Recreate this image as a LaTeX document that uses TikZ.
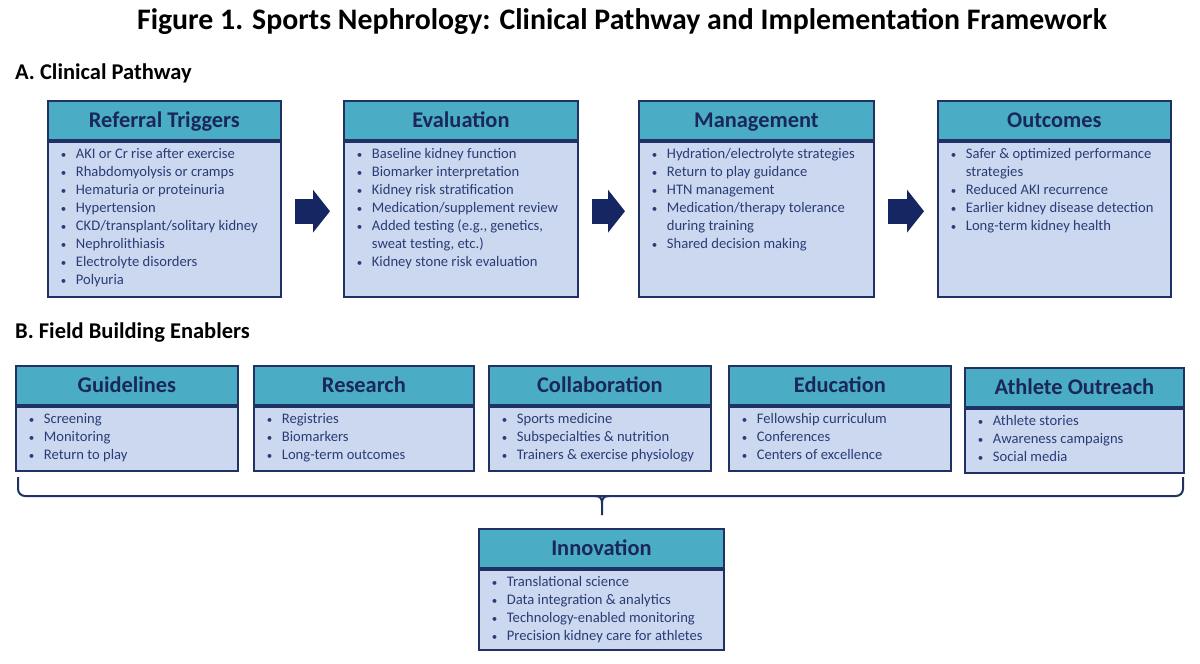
\documentclass[tikz,border=0pt]{standalone}
\usepackage{fontspec}
\setmainfont{Carlito}
\usepackage{tikz}
\usetikzlibrary{
  arrows.meta,
  positioning,
  calc
}
\definecolor{hdaqua}{RGB}{75,172,198}
\definecolor{bdlav}{RGB}{204,216,240}
\definecolor{edgenavy}{RGB}{31,50,99}
\definecolor{arrnavy}{RGB}{22,38,98}
\definecolor{hdtext}{RGB}{26,40,88}
\definecolor{bdtext}{RGB}{42,60,118}
\tikzset{
  headbox/.style={draw=edgenavy, line width=1.8pt, fill=hdaqua,
    anchor=north west, minimum height=39, inner sep=0pt,
    text height=17pt, text depth=2pt,
    text=hdtext, font=\bfseries\fontsize{22.4}{26}\selectfont},
  listbox/.style={draw=edgenavy, line width=1.8pt, fill=bdlav,
    inner xsep=13pt, inner ysep=7pt,
    text=bdtext, font=\fontsize{14.6}{18}\selectfont},
  seclabel/.style={anchor=west, inner sep=0pt,
    font=\bfseries\fontsize{22.5}{26}\selectfont},
  flowarr/.style={line width=25pt, arrnavy,
    -{Triangle[length=17pt, width=42pt]},
    shorten <=13pt, shorten >=13pt},
  bracecurve/.style={draw=edgenavy, line width=2pt},
}
\newcommand{\bul}{\makebox[15pt][l]{\fontsize{11}{11}\selectfont\textbullet}}
\newcommand{\cont}{\hspace*{15pt}}
% width, height, lines
\newcommand{\blist}[3]{\begin{minipage}[t][\dimexpr#2pt-14pt\relax][t]{\dimexpr#1pt-26pt\relax}#3\end{minipage}}

\begin{document}
\begin{tikzpicture}[x=1pt, y=-1pt]
  \useasboundingbox (0,0) rectangle (1200,664);

  % Title and section labels
  \node[font=\bfseries\fontsize{29.8}{34}\selectfont] (title) at (622,22)
    {Figure 1. Sports Nephrology: Clinical Pathway and Implementation Framework};
  \node[seclabel] (secA) at (15,73) {A. Clinical Pathway};
  \node[seclabel] (secB) at (15,333) {B. Field Building Enablers};

  % A. Clinical pathway
  \node[headbox, minimum width=233] (trig) at (47,100) {Referral Triggers};
  \node[listbox, below=0pt of trig] (trig-list) {\blist{233}{155}{%
    \bul AKI or Cr rise after exercise\\
    \bul Rhabdomyolysis or cramps\\
    \bul Hematuria or proteinuria\\
    \bul Hypertension\\
    \bul CKD/transplant/solitary kidney\\
    \bul Nephrolithiasis\\
    \bul Electrolyte disorders\\
    \bul Polyuria}};

  \node[headbox, minimum width=234] (eval) at (343,100) {Evaluation};
  \node[listbox, below=0pt of eval] (eval-list) {\blist{234}{155}{%
    \bul Baseline kidney function\\
    \bul Biomarker interpretation\\
    \bul Kidney risk stratification\\
    \bul Medication/supplement review\\
    \bul Added testing (e.g., genetics,\\
    \cont sweat testing, etc.)\\
    \bul Kidney stone risk evaluation}};

  \node[headbox, minimum width=235] (mgmt) at (638,100) {Management};
  \node[listbox, below=0pt of mgmt] (mgmt-list) {\blist{235}{155}{%
    \bul Hydration/electrolyte strategies\\
    \bul Return to play guidance\\
    \bul HTN management\\
    \bul Medication/therapy tolerance\\
    \cont during training\\
    \bul Shared decision making}};

  \node[headbox, minimum width=233] (outc) at (937,100) {Outcomes};
  \node[listbox, below=0pt of outc] (outc-list) {\blist{233}{155}{%
    \bul Safer \& optimized performance\\
    \cont strategies\\
    \bul Reduced AKI recurrence\\
    \bul Earlier kidney disease detection\\
    \bul Long-term kidney health}};

  \foreach \a/\b in {trig/eval, eval/mgmt, mgmt/outc} {
    \draw[flowarr] ([yshift=8pt]\a-list.east) -- ([yshift=8pt]\b-list.west);
  }

  % B. Field building enablers
  \node[headbox, minimum width=222] (guide) at (15,365) {Guidelines};
  \node[listbox, below=0pt of guide] (guide-list) {\blist{222}{64}{%
    \bul Screening\\
    \bul Monitoring\\
    \bul Return to play}};

  \node[headbox, minimum width=220] (resch) at (253,365) {Research};
  \node[listbox, below=0pt of resch] (resch-list) {\blist{220}{64}{%
    \bul Registries\\
    \bul Biomarkers\\
    \bul Long-term outcomes}};

  \node[headbox, minimum width=222] (collab) at (488,365) {Collaboration};
  \node[listbox, below=0pt of collab] (collab-list) {\blist{222}{64}{%
    \bul Sports medicine\\
    \bul Subspecialties \& nutrition\\
    \bul Trainers \& exercise physiology}};

  \node[headbox, minimum width=222] (educ) at (728,365) {Education};
  \node[listbox, below=0pt of educ] (educ-list) {\blist{222}{64}{%
    \bul Fellowship curriculum\\
    \bul Conferences\\
    \bul Centers of excellence}};

  \node[headbox, minimum width=219] (reach) at (964,367) {Athlete Outreach};
  \node[listbox, below=0pt of reach] (reach-list) {\blist{219}{64}{%
    \bul Athlete stories\\
    \bul Awareness campaigns\\
    \bul Social media}};

  % Brace gathering the enablers
  \draw[bracecurve, rounded corners=7pt] (18,477) -- (18,496) -- (1183,496) -- (1183,477);
  \draw[bracecurve] (595,496) .. controls (601,496) and (602,499) .. (602,504) -- (602,515);
  \draw[bracecurve] (609,496) .. controls (603,496) and (602,499) .. (602,504);

  \node[headbox, minimum width=245] (innov) at (478,528) {Innovation};
  \node[listbox, below=0pt of innov] (innov-list) {\blist{245}{80}{%
    \bul Translational science\\
    \bul Data integration \& analytics\\
    \bul Technology-enabled monitoring\\
    \bul Precision kidney care for athletes}};
\end{tikzpicture}
\end{document}
